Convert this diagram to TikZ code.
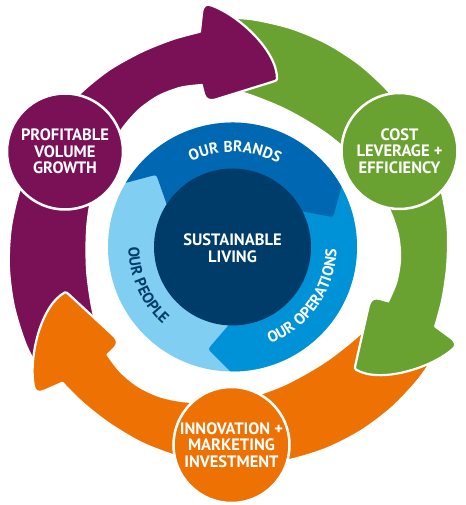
\documentclass[tikz,border=0pt]{standalone}
\usepackage{fontspec}
\setmainfont{PT Sans}
\newfontfamily\ringfam{PT Sans}[LetterSpace=4]
\usetikzlibrary{calc,decorations.text}
\definecolor{purp}{HTML}{7A1157}
\definecolor{grn}{HTML}{6AA231}
\definecolor{orng}{HTML}{ED7203}
\definecolor{navy}{HTML}{003C69}
\definecolor{brandblue}{HTML}{0068B2}
\definecolor{opblue}{HTML}{0092D6}
\definecolor{peopleblue}{HTML}{80CFF3}
\newcommand{\ringfont}{\ringfam\bfseries\fontsize{15.5}{16}\selectfont}
\newcommand{\arrowshape}{%
  plot[smooth] coordinates {(213:230) (205:228.6) (195:226.5) (185:224.5) (175:222.5) (165:220.5) (155:218.5) (145:217) (135:216.5) (125:216) (115:215.5) (106:216.3) (98.6:217.7)}
  -- (-30.5,234) .. controls (-29.5,242) and (-26,243.5) .. (-21,241.5)
  .. controls (6,232) and (45,196) .. (44.5,168)
  .. controls (44,166.5) and (43,166) .. (41,165.5)
  -- (-18,147.2) .. controls (-24,146) and (-27,148) .. (-28.5,153)
  -- (-30.8,162)
  -- plot[smooth] coordinates {(100.8:164.9) (108:167.5) (116:168) (124:166) (132:162) (140:157.5) (150:153) (160:149.5) (170:147) (180:146) (190:147.5) (200:151) (207:155) (213:158)}
  -- cycle}
\tikzset{
  arrowbody/.style={draw=white, line width=2.2pt, line join=round},
  lbl/.style={text=white, font=\bfseries\fontsize{16.5}{16.7}\selectfont, align=center},
  bubble/.style={circle, draw=white, line width=2.5pt, minimum size=116pt, inner sep=0pt},
}
\begin{document}
\begin{tikzpicture}[x=1pt,y=1pt]
\useasboundingbox (-232.5,-258) rectangle (232.5,247);
\coordinate (O) at (0,0);
% big arrows
\begin{scope}[rotate=120]
  \fill[orng, arrowbody] \arrowshape;
\end{scope}
\begin{scope}[rotate=-120]
  \fill[grn, arrowbody] \arrowshape;
\end{scope}
\fill[purp, arrowbody] \arrowshape;
\begin{scope}[rotate=120]
  \clip (0,0) -- (64:340) -- (106:340) -- cycle;
  \fill[orng, arrowbody] \arrowshape;
\end{scope}
% inner ring
\coordinate (pP1) at (149:124.5);
\coordinate (pC) at (136.5:105);
\coordinate (pP2) at (147:78.5);
\coordinate (bP1) at (29:124.5);
\coordinate (bC) at (16.5:105);
\coordinate (bP2) at (27:78.5);
\coordinate (oP1) at (-91:124.5);
\coordinate (oC) at (-103.5:105);
\coordinate (oP2) at (-93:78.5);
\fill[peopleblue] (O) circle[radius=124.5];
\fill[opblue] (O) -- (40:124.5) arc[start angle=40, end angle=-91, radius=124.5]
  -- ($(oC)!6pt!(oP1)$) .. controls (oC) .. ($(oC)!6pt!(oP2)$) -- (oP2) -- cycle;
\fill[brandblue] (O) -- (pP2) -- ($(pC)!6pt!(pP2)$) .. controls (pC) .. ($(pC)!6pt!(pP1)$)
  -- (pP1) arc[start angle=149, end angle=29, radius=124.5]
  -- ($(bC)!6pt!(bP1)$) .. controls (bC) .. ($(bC)!6pt!(bP2)$) -- (bP2) -- cycle;
\fill[navy] (O) circle[radius=78.5];
\node[lbl] (sl) at (0,-1) {SUSTAINABLE\\LIVING};
% ring texts
\path[decorate, decoration={text along path, text align=center,
  text={|\ringfont\color{white}|OUR BRANDS}}]
  (140:95) arc[start angle=140, end angle=37, radius=95];
\path[decorate, decoration={text along path, text align=center,
  text={|\ringfont\color{white}|OUR OPERATIONS}}]
  (-85:104) arc[start angle=-85, end angle=15, radius=104];
\path[decorate, decoration={text along path, text align=center,
  text={|\ringfont\color{navy}|OUR PEOPLE}}]
  (154:104) arc[start angle=154, end angle=254, radius=104];
% bubbles
\node[bubble, fill=purp, lbl] (pvg) at (-167.5,95.5) {PROFITABLE\\VOLUME\\GROWTH};
\node[bubble, fill=grn, lbl] (cle) at (167,96) {COST\\LEVERAGE +\\EFFICIENCY};
\node[bubble, fill=orng, lbl] (imi) at (-1,-198) {INNOVATION +\\MARKETING\\INVESTMENT};
\end{tikzpicture}
\end{document}
